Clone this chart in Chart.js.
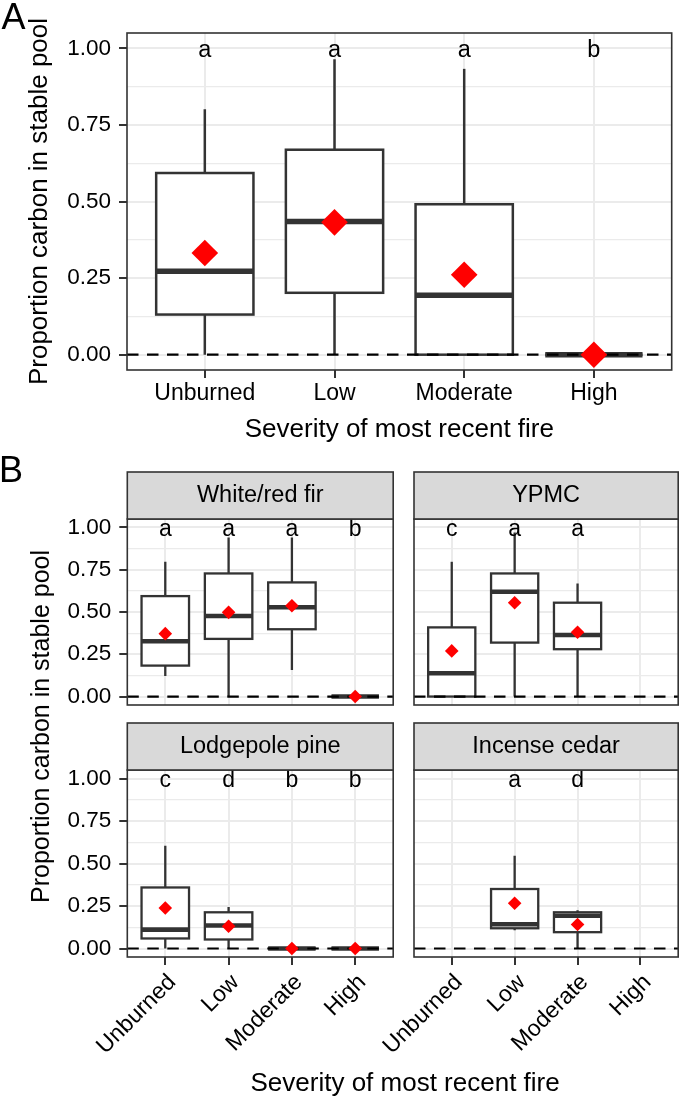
<!DOCTYPE html>
<html>
<head>
<meta charset="utf-8">
<script src="https://cdn.jsdelivr.net/npm/chart.js@4.4.1/dist/chart.umd.min.js"></script>
<style>
  html, body { margin: 0; padding: 0; background: #fff; }
  #page { position: relative; width: 685px; height: 1098px; overflow: hidden;
          font-family: "Liberation Sans", Arial, sans-serif; color: #000; }
  canvas { position: absolute; }
  .lbl { position: absolute; line-height: 1; white-space: nowrap; }
</style>
</head>
<body>
<div id="page">
  <canvas id="cA" width="685" height="445" style="left:0;top:0"></canvas>
  <canvas id="cFir" width="400" height="270" style="left:0;top:460px"></canvas>
  <canvas id="cYpmc" width="285" height="270" style="left:400px;top:460px"></canvas>
  <canvas id="cPine" width="400" height="386" style="left:0;top:712px"></canvas>
  <canvas id="cCedar" width="385" height="386" style="left:300px;top:712px"></canvas>

  <div class="lbl" style="left:1.5px;top:-1.2px;font-size:36px">A</div>
  <div class="lbl" style="left:-1px;top:451.8px;font-size:36px">B</div>
  <div class="lbl" id="yTitleB" style="font-size:25px">Proportion carbon in stable pool</div>
  <div class="lbl" id="xTitleB" style="font-size:26px;top:1068.5px">Severity of most recent fire</div>
</div>

<script>
// categorie e tacche
const severity = ["Unburned", "Low", "Moderate", "High"];
const forestTypes = ["White/red fir", "YPMC", "Lodgepole pine", "Incense cedar"];
const yMajor = [0, 0.25, 0.5, 0.75, 1];
const yMinor = [0.125, 0.375, 0.625, 0.875];
const LETTER_Y = 1;

// A: tutti i tipi di foresta (baffi, quartili, mediana, media, lettere)
const allLow = [0, 0, 0, 0];
const allQ1 = [0.131, 0.202, 0, 0];
const allMed = [0.272, 0.435, 0.194, 0];
const allQ3 = [0.593, 0.669, 0.491, 0];
const allHigh = [0.801, 0.964, 0.933, 0];
const allMean = [0.332, 0.432, 0.261, 0];
const allLetters = ["a", "a", "a", "b"];

// B: White/red fir
const firLow = [0.122, 0, 0.157, 0];
const firQ1 = [0.183, 0.341, 0.398, 0];
const firMed = [0.327, 0.476, 0.528, 0];
const firQ3 = [0.594, 0.728, 0.675, 0];
const firHigh = [0.797, 0.941, 0.941, 0];
const firMean = [0.372, 0.498, 0.537, 0];
const firLetters = ["a", "a", "a", "b"];

// B: YPMC
const ypmcLow = [0, 0, 0, null];
const ypmcQ1 = [0, 0.319, 0.28, null];
const ypmcMed = [0.138, 0.62, 0.364, null];
const ypmcQ3 = [0.409, 0.728, 0.555, null];
const ypmcHigh = [0.797, 0.97, 0.669, null];
const ypmcMean = [0.27, 0.555, 0.38, null];
const ypmcLetters = ["c", "a", "a", ""];

// B: Lodgepole pine
const pineLow = [0, 0, 0, 0];
const pineQ1 = [0.059, 0.053, 0, 0];
const pineMed = [0.111, 0.135, 0, 0];
const pineQ3 = [0.359, 0.213, 0, 0];
const pineHigh = [0.604, 0.244, 0, 0];
const pineMean = [0.238, 0.131, 0, 0];
const pineLetters = ["c", "d", "b", "b"];

// B: Incense cedar
const cedarLow = [null, 0.107, 0, null];
const cedarQ1 = [null, 0.119, 0.096, null];
const cedarMed = [null, 0.143, 0.193, null];
const cedarQ3 = [null, 0.35, 0.213, null];
const cedarHigh = [null, 0.545, 0.225, null];
const cedarMean = [null, 0.266, 0.141, null];
const cedarLetters = ["", "a", "d", ""];

const FONT = '"Liberation Sans", Arial, sans-serif';
const TEXT = '#000000';
const AXIS = '#333333';
const GRID = '#EBEBEB';
const X_MIN = 0.4, X_MAX = 4.6, Y_MIN = -0.05, Y_MAX = 1.05;
const BOX_WIDTH = 0.75;

Chart.defaults.font.family = FONT;

const isMajor = v => yMajor.includes(v);

// scatole e baffi disegnati con le scale del grafico
function boxPlugin(g, cfg) {
  return {
    id: 'boxes',
    beforeDatasetsDraw(chart) {
      const { ctx, scales: { x, y } } = chart;
      ctx.save();
      ctx.strokeStyle = AXIS;
      g.med.forEach((m, i) => {
        if (m === null) return;
        const cx = x.getPixelForValue(i + 1);
        const left = x.getPixelForValue(i + 1 - BOX_WIDTH / 2);
        const right = x.getPixelForValue(i + 1 + BOX_WIDTH / 2);
        const top = y.getPixelForValue(g.q3[i]);
        const bot = y.getPixelForValue(g.q1[i]);
        ctx.lineWidth = cfg.line;
        ctx.beginPath();
        ctx.moveTo(cx, y.getPixelForValue(g.hi[i]));
        ctx.lineTo(cx, top);
        ctx.moveTo(cx, bot);
        ctx.lineTo(cx, y.getPixelForValue(g.lo[i]));
        ctx.stroke();
        ctx.fillStyle = '#fff';
        ctx.fillRect(left, top, right - left, bot - top);
        ctx.strokeRect(left, top, right - left, bot - top);
        const ym = y.getPixelForValue(m);
        ctx.lineWidth = cfg.median;
        ctx.beginPath();
        ctx.moveTo(left, ym);
        ctx.lineTo(right, ym);
        ctx.stroke();
      });
      ctx.restore();
    }
  };
}

// lettere, cornice del pannello e striscia del facet
function decorPlugin(g, cfg) {
  return {
    id: 'decor',
    afterDatasetsDraw(chart) {
      const { ctx, chartArea: a, scales: { x, y } } = chart;
      ctx.save();
      ctx.font = cfg.letterSize + 'px ' + FONT;
      ctx.fillStyle = TEXT;
      ctx.textAlign = 'center';
      ctx.textBaseline = 'alphabetic';
      g.letters.forEach((t, i) => {
        if (t) ctx.fillText(t, x.getPixelForValue(i + 1), y.getPixelForValue(LETTER_Y) + 0.38 * cfg.letterSize);
      });
      ctx.strokeStyle = AXIS;
      ctx.lineWidth = 1.6;
      ctx.strokeRect(a.left, a.top, a.right - a.left, a.bottom - a.top);
      if (cfg.strip) {
        const sh = 47;
        ctx.fillStyle = '#D9D9D9';
        ctx.fillRect(a.left, a.top - sh, a.right - a.left, sh);
        ctx.strokeRect(a.left, a.top - sh, a.right - a.left, sh);
        ctx.fillStyle = TEXT;
        ctx.font = '23.5px ' + FONT;
        ctx.textBaseline = 'middle';
        ctx.fillText(cfg.strip, (a.left + a.right) / 2, a.top - sh / 2);
      }
      ctx.restore();
    }
  };
}

function makePanel(id, g, cfg) {
  const meanPts = [];
  g.mean.forEach((m, i) => { if (m !== null) meanPts.push({ x: i + 1, y: m }); });
  return new Chart(document.getElementById(id), {
    type: 'scatter',
    data: {
      datasets: [
        { data: meanPts, pointStyle: 'rectRot', pointRadius: cfg.diamond, pointHoverRadius: cfg.diamond,
          backgroundColor: '#FF0000', borderWidth: 0 },
        { type: 'line', data: [{ x: X_MIN, y: 0 }, { x: X_MAX, y: 0 }], borderColor: '#000',
          borderWidth: 2.2, borderDash: [11.5, 8.5], pointRadius: 0, fill: false }
      ]
    },
    options: {
      responsive: false,
      animation: false,
      events: [],
      layout: { padding: cfg.pad },
      plugins: { legend: { display: false }, tooltip: { enabled: false } },
      scales: {
        x: {
          type: 'linear', min: X_MIN, max: X_MAX,
          afterBuildTicks: s => { s.ticks = severity.map((_, i) => ({ value: i + 1 })); },
          afterFit: s => { s.height = cfg.xHeight; },
          grid: { color: GRID, lineWidth: 2, drawTicks: cfg.xTicks, tickLength: 8, tickColor: AXIS, tickWidth: 2 },
          border: { display: false },
          ticks: { display: cfg.xTicks, autoSkip: false, minRotation: cfg.rot, maxRotation: cfg.rot,
                   padding: cfg.xPad, labelOffset: cfg.labelShift, color: TEXT, font: { size: 23 },
                   callback: v => severity[v - 1] },
          title: cfg.titles ? { display: true, text: 'Severity of most recent fire', color: TEXT,
                   font: { size: 26, lineHeight: 1 }, padding: { top: 0, bottom: 2 } } : { display: false }
        },
        y: {
          type: 'linear', min: Y_MIN, max: Y_MAX,
          afterBuildTicks: s => { s.ticks = yMajor.concat(yMinor).sort((p, q) => p - q).map(v => ({ value: v })); },
          afterFit: s => { s.width = cfg.yWidth; },
          grid: {
            color: GRID,
            lineWidth: c => (c.tick && isMajor(c.tick.value)) ? 2 : 1.2,
            drawTicks: cfg.yTicks, tickLength: 8, tickWidth: 2,
            tickColor: c => (c.tick && isMajor(c.tick.value)) ? AXIS : 'rgba(0,0,0,0)'
          },
          border: { display: false },
          ticks: { display: cfg.yTicks, autoSkip: false, padding: 8, color: TEXT, font: { size: 22.5 },
                   callback: v => isMajor(v) ? v.toFixed(2) : '' },
          title: cfg.titles ? { display: true, text: 'Proportion carbon in stable pool', color: TEXT,
                   font: { size: 26, lineHeight: 1 }, padding: { top: 27, bottom: 0 } } : { display: false }
        }
      }
    },
    plugins: [boxPlugin(g, cfg), decorPlugin(g, cfg)]
  });
}

const groupAll = { lo: allLow, q1: allQ1, med: allMed, q3: allQ3, hi: allHigh, mean: allMean, letters: allLetters };
const groupFir = { lo: firLow, q1: firQ1, med: firMed, q3: firQ3, hi: firHigh, mean: firMean, letters: firLetters };
const groupYpmc = { lo: ypmcLow, q1: ypmcQ1, med: ypmcMed, q3: ypmcQ3, hi: ypmcHigh, mean: ypmcMean, letters: ypmcLetters };
const groupPine = { lo: pineLow, q1: pineQ1, med: pineMed, q3: pineQ3, hi: pineHigh, mean: pineMean, letters: pineLetters };
const groupCedar = { lo: cedarLow, q1: cedarQ1, med: cedarMed, q3: cedarQ3, hi: cedarHigh, mean: cedarMean, letters: cedarLetters };

const small = { diamond: 6.8, line: 2.3, median: 4.6, letterSize: 23, rot: 45, xPad: 4, labelShift: 7 };

makePanel('cA', groupAll, {
  pad: { top: 33, right: 2, left: 0, bottom: 0 }, yWidth: 127, xHeight: 75,
  xTicks: true, yTicks: true, titles: true, rot: 0, xPad: 2, labelShift: 0,
  diamond: 13.3, line: 2.5, median: 5.5, letterSize: 23.5
});
makePanel('cFir', groupFir, Object.assign({}, small, {
  pad: { top: 59, right: 3.3, left: 0, bottom: 25 }, yWidth: 127.3, xHeight: 0,
  xTicks: false, yTicks: true, strip: forestTypes[0]
}));
makePanel('cYpmc', groupYpmc, Object.assign({}, small, {
  pad: { top: 59, right: 2.3, left: 14, bottom: 25 }, yWidth: 0, xHeight: 0,
  xTicks: false, yTicks: false, strip: forestTypes[1]
}));
makePanel('cPine', groupPine, Object.assign({}, small, {
  pad: { top: 58, right: 3.3, left: 0, bottom: 0 }, yWidth: 127.3, xHeight: 141,
  xTicks: true, yTicks: true, strip: forestTypes[2]
}));
makePanel('cCedar', groupCedar, Object.assign({}, small, {
  pad: { top: 58, right: 2.3, left: 114, bottom: 0 }, yWidth: 0, xHeight: 141,
  xTicks: true, yTicks: false, strip: forestTypes[3]
}));

// titoli condivisi del pannello B
const yt = document.getElementById('yTitleB');
const w = yt.offsetWidth, h = yt.offsetHeight;
yt.style.left = (40.3 - w / 2) + 'px';
yt.style.top = (726 - h / 2) + 'px';
yt.style.transform = 'rotate(-90deg)';
const xt = document.getElementById('xTitleB');
xt.style.left = (405 - xt.offsetWidth / 2) + 'px';
</script>
</body>
</html>
